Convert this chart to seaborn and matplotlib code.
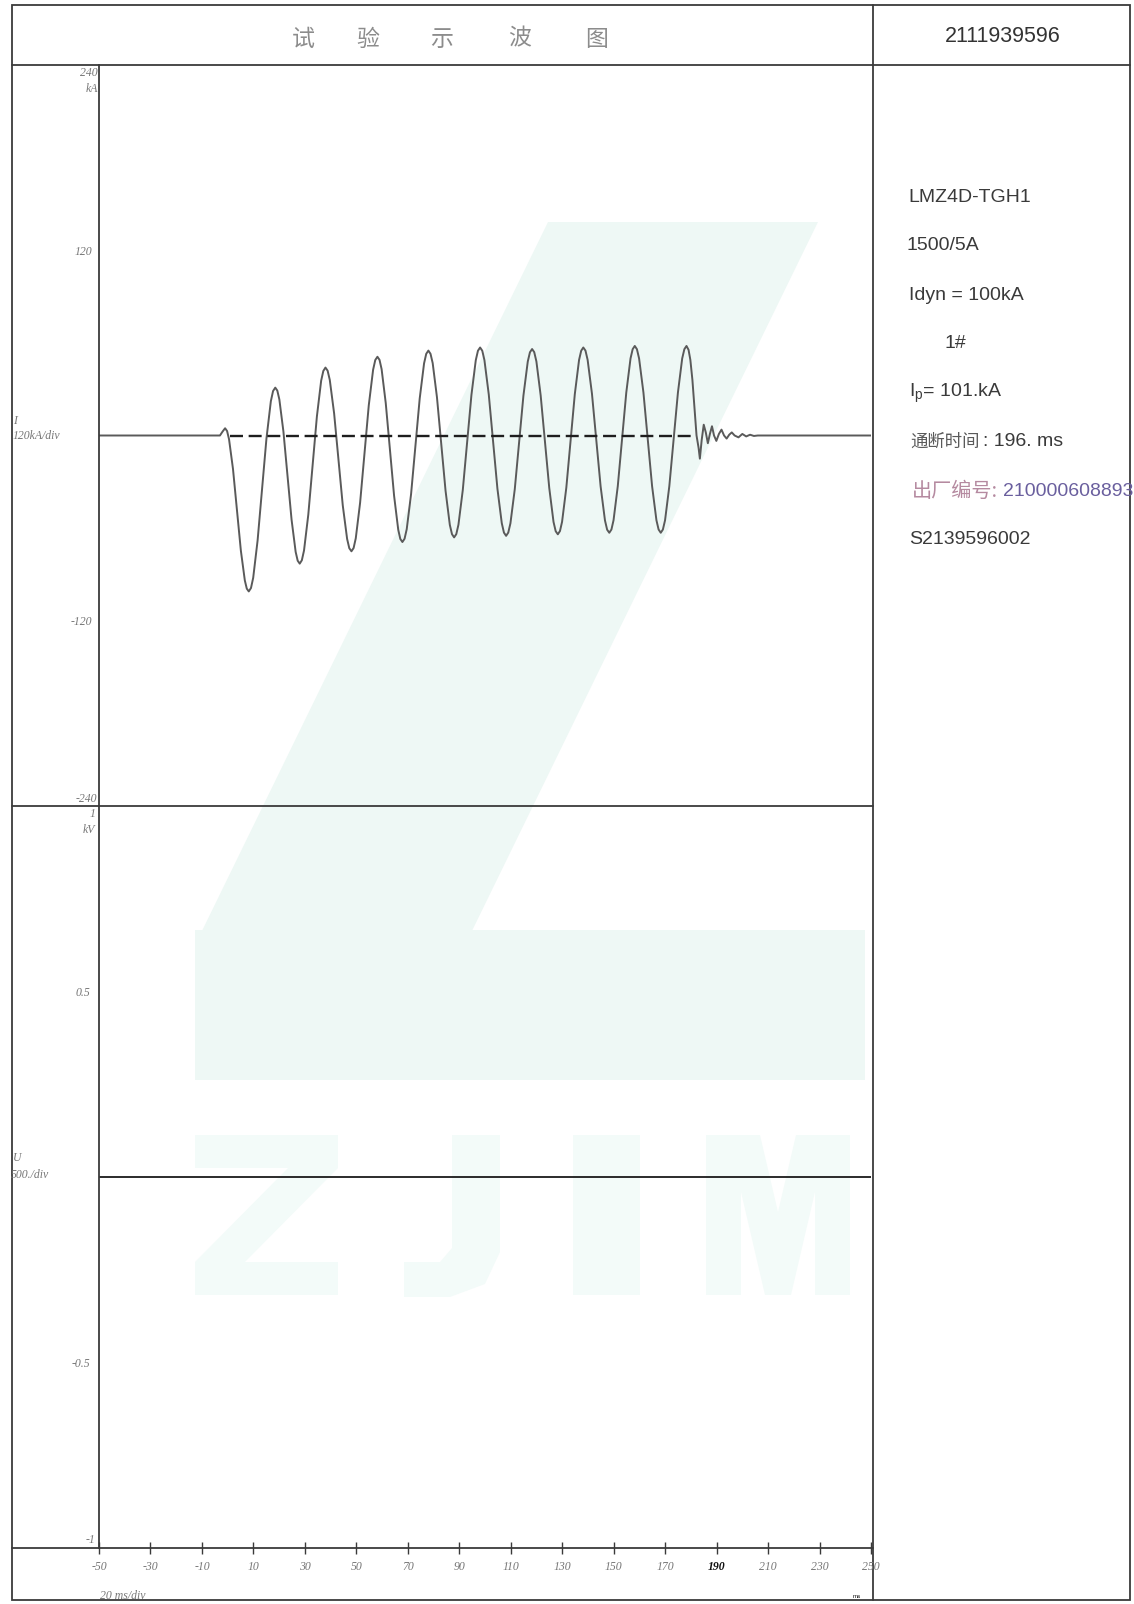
import matplotlib
matplotlib.use("Agg")
import matplotlib.pyplot as plt
import seaborn as sns
from matplotlib.patches import Polygon, Rectangle

# ---- data ----
# current trace (ms, kA): flat, small blip, 9 cycles, cut-off ringing, flat
t_ms = [-50, -3.0, -2.0, -1.0,
        -0.23, 0.53, 2.07, 3.6, 5.13, 6.67, 7.43, 8.2,
        9.06, 9.92, 11.63, 13.35, 15.07, 16.78, 17.64, 18.5,
        19.29, 20.08, 21.67, 23.25, 24.83, 26.42, 27.21, 28.0,
        28.83, 29.67, 31.33, 33.0, 34.67, 36.33, 37.17, 38.0,
        38.84, 39.68, 41.37, 43.05, 44.73, 46.42, 47.26, 48.1,
        48.94, 49.78, 51.47, 53.15, 54.83, 56.52, 57.36, 58.2,
        59.01, 59.82, 61.43, 63.05, 64.67, 66.28, 67.09, 67.9,
        68.74, 69.58, 71.27, 72.95, 74.63, 76.32, 77.16, 78.0,
        78.83, 79.67, 81.33, 83.0, 84.67, 86.33, 87.17, 88.0,
        88.84, 89.68, 91.37, 93.05, 94.73, 96.42, 97.26, 98.1,
        98.94, 99.78, 101.47, 103.15, 104.83, 106.52, 107.36, 108.2,
        109.04, 109.88, 111.57, 113.25, 114.93, 116.62, 117.46, 118.3,
        119.13, 119.97, 121.63, 123.3, 124.97, 126.63, 127.47, 128.3,
        129.13, 129.95, 131.6, 133.25, 134.9, 136.55, 137.38, 138.2,
        139.04, 139.88, 141.57, 143.25, 144.93, 146.62, 147.46, 148.3,
        149.13, 149.95, 151.6, 153.25, 154.9, 156.55, 157.38, 158.2,
        159.04, 159.88, 161.57, 163.25, 164.93, 166.62, 167.46, 168.3,
        169.13, 169.97, 171.63, 173.3, 174.97, 176.63, 177.47, 178.3,
        179.1, 179.8, 180.6, 181.4, 182.2, 183.0, 183.5, 184.2, 185.0, 185.8,
        186.6, 187.4, 188.2, 189.0, 189.9, 190.9, 191.9, 192.9, 193.9,
        194.9, 195.9, 197.0, 198.5, 200.0, 201.5, 203.0, 204.5, 206.0, 250]
i_kA = [0, 0, 2.5, 4.7,
        2.9, -2.4, -21.7, -48.2, -74.6, -93.9, -99.2, -101,
        -98.8, -92.2, -68, -35, -2, 22.2, 28.8, 31,
        29.1, 23.4, 2.5, -26, -54.5, -75.4, -81.1, -83,
        -80.8, -74.5, -51.3, -19.5, 12.3, 35.5, 41.8, 44,
        42.0, 36.0, 14.3, -15.5, -45.3, -67.0, -73.0, -75,
        -72.9, -66.6, -43.5, -12, 19.5, 42.6, 48.9, 51,
        49.0, 43.0, 21, -9, -39, -61, -67, -69,
        -66.9, -60.7, -38, -7, 24, 46.7, 52.9, 55,
        52.9, 46.9, 24.8, -5.5, -35.8, -57.9, -63.9, -66,
        -63.9, -57.8, -35.3, -4.5, 26.3, 48.8, 54.9, 57,
        54.9, 48.8, 26.5, -4, -34.5, -56.8, -62.9, -65,
        -62.9, -56.9, -34.8, -4.5, 25.8, 47.9, 53.9, 56,
        54.0, 48.0, 26, -4, -34, -56, -62, -64,
        -61.9, -55.9, -33.8, -3.5, 26.8, 48.9, 54.9, 57,
        55, 49, 27, -3, -33, -55, -61, -63,
        -60.9, -54.9, -32.8, -2.5, 27.8, 49.9, 55.9, 58,
        55.9, 49.9, 27.8, -2.5, -32.8, -54.9, -60.9, -63,
        -60.9, -54.9, -32.8, -2.5, 27.8, 49.9, 55.9, 58,
        55.5, 49, 36, 18, 0, -8, -15, -3, 7, 2,
        -5, 1, 6, 0, -3.5, 1, 3.8, 0, -2,
        0.5, 2, 0, -1.2, 1.0, -0.6, 0.5, -0.3, 0, 0]
ref_span = [1.0, 182.0]          # dashed zero reference (ms)

# voltage trace (ms, kV) - flat
u_ms = [-50, 250]
u_kV = [0, 0]

x_ticks = list(range(-50, 251, 20))
i_ticks = [-240, -120, 0, 120, 240]
i_labels = ["", "-120", "", "120", ""]
u_ticks = [-1, -0.5, 0, 0.5, 1]
u_labels = ["", "-0.5", "", "0.5", ""]

title_chars = ["试", "验", "示", "波", "图"]
report_no = "2111939596"
info_lines = ["LMZ4D-TGH1", "1500/5A", "Idyn = 100kA", "1#", "I$_{p}$= 101.kA"]
time_label = "通断时间"
time_value = ": 196. ms"
serial_label = "出厂编号:"
serial_no = "210000608893"
sample_no = "S2139596002"

# ---- style ----
sns.set_style("white")
plt.rcParams["font.family"] = ["Liberation Sans", "Noto Sans CJK SC", "DejaVu Sans"]
plt.rcParams["mathtext.default"] = "regular"

W, H = 1134, 1604
fig = plt.figure(figsize=(W / 100, H / 100), dpi=100)

# background axes in pixel coords for frame / watermark / free text
bg = fig.add_axes([0, 0, 1, 1], zorder=0)
bg.set_xlim(0, W)
bg.set_ylim(H, 0)
bg.axis("off")

# faint watermark
wm = "#eef8f5"
wl = "#f3fbf9"
bg.add_patch(Polygon([(548, 222), (818, 222), (470, 935), (200, 935)],
                     closed=True, color=wm, lw=0))
bg.add_patch(Rectangle((195, 930), 670, 150, color=wm, lw=0))
letters = [
    [(195, 1135), (338, 1135), (338, 1168), (245, 1262), (338, 1262), (338, 1295),
     (195, 1295), (195, 1262), (288, 1168), (195, 1168)],
    [(452, 1135), (500, 1135), (500, 1252), (485, 1284), (450, 1297), (404, 1297),
     (404, 1262), (440, 1262), (452, 1248)],
    [(573, 1135), (640, 1135), (640, 1295), (573, 1295)],
    [(706, 1135), (760, 1135), (778, 1212), (796, 1135), (850, 1135), (850, 1295),
     (815, 1295), (815, 1192), (791, 1295), (765, 1295), (741, 1192), (741, 1295),
     (706, 1295)],
]
for pts in letters:
    bg.add_patch(Polygon(pts, closed=True, color=wl, lw=0))

# frame
fc = "#3a3a3a"
lw = 1.3
bg.add_patch(Rectangle((12, 5), 1118, 1595, fill=False, ec=fc, lw=lw))
bg.plot([12, 1130], [65, 65], color=fc, lw=lw)
bg.plot([873, 873], [5, 1600], color=fc, lw=lw)
bg.plot([12, 873], [806, 806], color=fc, lw=lw)
bg.plot([12, 873], [1548, 1548], color=fc, lw=lw)

# header
for ch, x in zip(title_chars, [303, 368, 442, 520, 597]):
    bg.text(x, 39, ch, fontsize=16.5, color="#8c8c8c", family="Noto Sans CJK SC",
            ha="center", va="center")
bg.text(1003, 37, report_no, fontsize=15.5, color="#333333", ha="center", va="center")

# info panel
info_y = [197, 246, 295, 344, 393]
info_x = [908, 907, 909, 945, 909]
for s, x, y in zip(info_lines, info_x, info_y):
    bg.text(x, y, s, fontsize=14, color="#3a3a3a", ha="left", va="center")
bg.text(910, 442, time_label, fontsize=12.5, color="#5a5a5a", ha="left", va="center",
        family=["Noto Sans CJK SC", "DejaVu Sans"])
bg.text(983, 442, time_value, fontsize=14, color="#3a3a3a", ha="left", va="center")
bg.text(912, 491, serial_label, fontsize=14.5, color="#b58aa0", ha="left", va="center",
        family=["Noto Sans CJK SC", "DejaVu Sans"])
bg.text(1003, 491, serial_no, fontsize=14, color="#6a5f9e", ha="left", va="center")
bg.text(909, 540, sample_no, fontsize=14, color="#3a3a3a", ha="left", va="center")

# left-margin labels
lab = dict(family="Liberation Serif", style="italic", fontsize=8.5, color="#777777")
bg.text(98, 73, "240", ha="right", va="center", **lab)
bg.text(98, 89, "kA", ha="right", va="center", **lab)
bg.text(13, 421, "I", ha="left", va="center", **lab)
bg.text(13, 436, "120kA/div", ha="left", va="center", **lab)
bg.text(97, 799, "-240", ha="right", va="center", **lab)
bg.text(95, 814, "1", ha="right", va="center", **lab)
bg.text(95, 830, "kV", ha="right", va="center", **lab)
bg.text(13, 1158, "U", ha="left", va="center", **lab)
bg.text(11, 1175, "500./div", ha="left", va="center", **lab)
bg.text(95, 1540, "-1", ha="right", va="center", **lab)
bg.text(100, 1596, "20 ms/div", ha="left", va="center", **lab)
bg.text(857, 1596, "ms", ha="center", va="center", fontsize=4.5, color="#111111")

# ---- plot panels ----
L, R = 99, 871
ax_i = fig.add_axes([L / W, 1 - 806 / H, (R - L) / W, 741 / H], zorder=1)
ax_u = fig.add_axes([L / W, 1 - 1548 / H, (R - L) / W, 742 / H], zorder=1, sharex=ax_i)

for ax in (ax_i, ax_u):
    ax.set_facecolor("none")
    for sp in ax.spines.values():
        sp.set_visible(False)
    ax.spines["left"].set_visible(True)
    ax.spines["left"].set_color(fc)
    ax.spines["left"].set_linewidth(lw)
    ax.set_xlim(-50, 250)

# current
sns.lineplot(x=t_ms, y=i_kA, ax=ax_i, color="#5a5a5a", linewidth=1.4,
             sort=False, estimator=None)
ax_i.lines[-1].set_solid_joinstyle("round")
ax_i.hlines(0, ref_span[0], ref_span[1], colors="#1e1e1e", linewidth=1.7,
            linestyles=(0, (5.5, 2.4)), zorder=3)
ax_i.set_ylim(-240, 240)
ax_i.set_yticks(i_ticks)
ax_i.set_yticklabels(i_labels, **lab)
ax_i.tick_params(axis="y", direction="out", length=4, width=1, color=fc, pad=1)
ax_i.tick_params(axis="x", bottom=False, labelbottom=False)
ax_i.set_xlabel("")
ax_i.set_ylabel("")

# voltage
sns.lineplot(x=u_ms, y=u_kV, ax=ax_u, color="#1a1a1a", linewidth=1.3,
             sort=False, estimator=None)
ax_u.set_ylim(-1, 1)
ax_u.set_yticks(u_ticks)
ax_u.set_yticklabels(u_labels, **lab)
ax_u.tick_params(axis="y", direction="out", length=5, width=1, color=fc, pad=1)
ax_u.set_xticks(x_ticks)
ax_u.set_xticklabels([str(v) for v in x_ticks], **lab)
ax_u.tick_params(axis="x", bottom=True, labelbottom=True, direction="inout",
                 length=8, width=1, color=fc, pad=5)
for tl in ax_u.get_xticklabels():
    if tl.get_text() == "190":
        tl.set_color("#111111")
        tl.set_fontweight("bold")
ax_u.set_xlabel("")
ax_u.set_ylabel("")

fig.savefig("out.png", dpi=100)
